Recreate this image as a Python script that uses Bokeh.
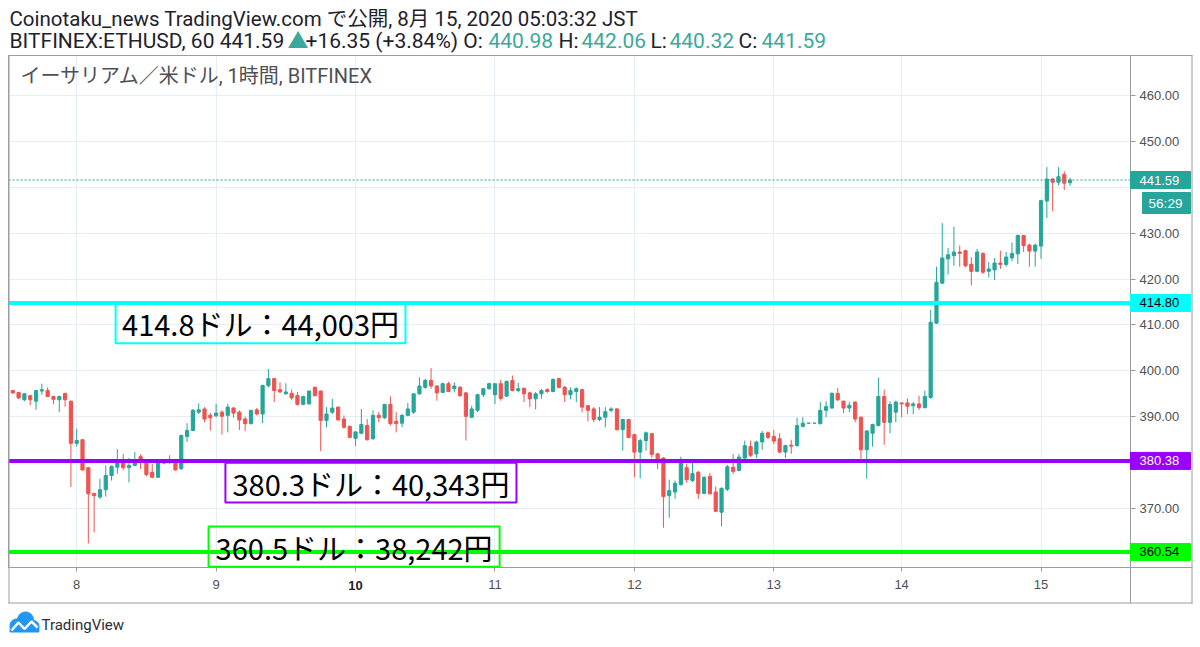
import numpy as np
from bokeh.plotting import figure
from bokeh.models import (Span, Label, BoxAnnotation, FixedTicker,
                          NumeralTickFormatter, Range1d, ColumnDataSource)
from bokeh.core.properties import value
from bokeh.embed import file_html
from bokeh.resources import INLINE

# ---------------- data (hourly candles, BITFINEX ETHUSD) ----------------
opens = [395.7, 395.3, 393.7, 394.6, 393.4, 395.6, 395.7, 394.4, 393.7, 395.1,
         393.4, 384.2, 385.0, 378.9, 373.3, 372.5, 374.1, 377.2, 379.0, 379.9,
         378.9, 379.4, 381.3, 380.5, 377.9, 376.8, 380.1, 380.5, 380.1, 378.7,
         385.7, 387.0, 391.0, 391.7, 390.3, 390.2, 391.0, 390.3, 391.9, 391.0,
         389.5, 388.5, 391.5, 390.6, 396.8, 398.3, 395.9, 395.0, 395.1, 394.6,
         392.7, 392.8, 396.4, 395.6, 389.2, 391.0, 392.1, 389.5, 387.9, 385.3,
         386.4, 388.1, 385.2, 390.3, 389.8, 392.7, 389.0, 388.6, 390.3, 391.0,
         395.0, 396.4, 397.9, 396.7, 395.3, 397.2, 396.1, 396.4, 395.2, 389.9,
         391.4, 394.8, 396.1, 394.8, 397.2, 394.5, 397.9, 395.7, 396.2, 395.2,
         393.9, 395.0, 395.9, 395.5, 398.3, 396.4, 394.8, 395.5, 395.9, 392.4,
         391.7, 389.4, 389.9, 391.4, 391.7, 387.2, 389.4, 386.1, 382.3, 384.8,
         386.3, 381.9, 381.0, 372.8, 373.6, 375.2, 378.9, 376.1, 377.9, 373.3,
         377.0, 373.6, 369.2, 374.2, 379.0, 378.3, 381.0, 383.5, 381.9, 384.5,
         386.5, 385.7, 385.2, 382.3, 383.8, 383.7, 387.9, 388.6, 388.6, 388.5,
         391.4, 391.9, 395.1, 393.4, 391.9, 393.2, 389.9, 382.8, 386.4, 388.1,
         394.4, 388.8, 391.0, 393.0, 393.0, 392.4, 392.8, 392.0, 394.2, 410.4,
         419.1, 424.4, 425.1, 425.9, 426.2, 423.2, 421.7, 425.6, 421.7, 422.0,
         423.5, 423.2, 424.6, 425.5, 429.5, 427.4, 426.1, 427.2, 437.0, 441.8,
         441.1, 442.8, 440.98]
highs = [395.9, 395.4, 395.1, 394.7, 395.9, 397.2, 396.4, 394.6, 394.6, 395.1,
         393.5, 387.4, 385.0, 379.0, 373.3, 376.5, 379.4, 379.4, 383.0, 381.9,
         381.0, 382.3, 381.8, 380.6, 379.7, 380.5, 380.8, 381.6, 380.5, 386.1,
         388.6, 391.7, 392.9, 392.1, 390.8, 392.8, 391.4, 392.8, 392.1, 391.4,
         390.0, 391.5, 391.9, 397.0, 400.4, 398.5, 397.5, 397.3, 395.9, 395.4,
         394.6, 395.7, 396.6, 395.7, 392.1, 393.9, 392.2, 390.3, 388.1, 386.8,
         391.7, 389.5, 391.4, 391.0, 392.8, 394.4, 391.0, 390.6, 393.0, 395.1,
         398.6, 398.3, 400.6, 396.8, 397.4, 397.6, 397.5, 396.7, 395.3, 392.4,
         395.0, 396.2, 397.4, 397.3, 398.1, 397.9, 399.0, 397.4, 396.4, 395.5,
         395.4, 396.1, 396.2, 398.4, 398.5, 396.7, 396.4, 396.4, 396.1, 392.6,
         392.1, 392.1, 392.1, 392.1, 391.9, 389.5, 389.5, 386.3, 385.2, 386.8,
         386.4, 382.1, 381.2, 376.3, 376.1, 381.3, 379.7, 380.1, 378.2, 377.0,
         377.7, 374.8, 374.6, 379.5, 381.9, 381.9, 384.8, 384.8, 384.8, 386.9,
         386.8, 387.1, 386.4, 383.9, 385.0, 389.8, 389.9, 388.6, 388.6, 393.2,
         393.4, 395.3, 396.3, 393.5, 393.2, 393.3, 390.0, 387.1, 388.5, 398.5,
         395.9, 393.4, 393.5, 393.2, 394.0, 393.2, 394.6, 395.7, 413.3, 422.7,
         432.2, 426.8, 431.4, 427.3, 426.4, 424.8, 426.6, 425.8, 423.7, 424.6,
         426.2, 425.9, 428.0, 429.7, 429.6, 427.7, 427.7, 437.3, 444.4, 442.0,
         444.4, 443.5, 442.06]
lows = [395.0, 393.9, 393.4, 392.5, 391.5, 394.8, 394.3, 392.7, 391.0, 392.2,
        374.7, 383.5, 378.3, 362.4, 364.8, 372.1, 372.6, 376.1, 377.6, 378.3,
        375.7, 379.2, 378.6, 377.0, 376.7, 376.7, 379.7, 379.7, 378.3, 378.4,
        384.5, 386.9, 390.6, 388.8, 387.0, 389.9, 386.1, 386.6, 389.8, 387.1,
        386.9, 388.3, 390.3, 388.6, 396.4, 393.2, 395.2, 394.8, 393.7, 392.4,
        392.5, 392.7, 394.4, 382.5, 387.7, 390.6, 389.2, 387.4, 385.4, 383.6,
        386.3, 384.8, 385.0, 388.8, 389.5, 388.1, 386.6, 387.7, 390.1, 390.6,
        394.8, 396.1, 396.1, 393.5, 395.2, 395.4, 395.3, 394.3, 384.8, 389.7,
        391.0, 394.3, 395.9, 392.8, 393.5, 394.3, 395.5, 395.4, 393.2, 392.1,
        391.6, 393.9, 395.2, 395.3, 396.2, 393.2, 393.8, 393.2, 391.0, 389.0,
        388.8, 389.0, 387.7, 391.0, 387.0, 382.6, 385.3, 376.8, 376.6, 382.6,
        381.0, 378.6, 365.8, 368.0, 372.1, 375.0, 375.6, 375.8, 372.1, 373.2,
        373.1, 369.2, 366.1, 373.8, 377.5, 378.1, 380.7, 381.2, 381.0, 382.8,
        385.2, 384.0, 382.1, 381.0, 381.9, 383.5, 387.7, 388.6, 388.6, 388.3,
        389.9, 391.7, 393.4, 390.8, 391.0, 388.8, 380.8, 376.5, 383.5, 387.9,
        383.9, 386.4, 388.8, 389.9, 390.6, 390.6, 391.5, 391.8, 393.9, 410.2,
        419.0, 421.0, 422.9, 422.7, 422.6, 418.6, 421.5, 421.1, 420.4, 419.8,
        422.2, 422.7, 423.9, 423.3, 425.9, 422.7, 422.7, 424.4, 433.3, 434.8,
        440.4, 439.4, 440.32]
closes = [395.2, 394.1, 395.0, 393.7, 395.7, 395.9, 394.4, 393.8, 394.4, 393.7,
          384.2, 384.8, 378.4, 373.2, 372.8, 374.1, 377.2, 379.2, 380.1, 378.9,
          379.4, 380.5, 380.5, 377.4, 376.8, 380.1, 379.9, 380.3, 378.4, 385.9,
          387.0, 391.4, 391.5, 389.5, 389.8, 390.8, 390.1, 392.1, 390.8, 389.3,
          388.5, 391.4, 390.6, 396.8, 398.3, 395.7, 395.4, 395.4, 394.1, 392.7,
          394.4, 395.6, 394.6, 389.2, 390.6, 391.9, 389.3, 387.7, 385.5, 386.7,
          388.3, 385.0, 390.3, 389.8, 392.7, 388.5, 388.5, 390.3, 391.7, 395.0,
          396.7, 397.9, 396.7, 395.2, 397.2, 395.5, 396.7, 394.6, 390.1, 391.7,
          394.8, 396.1, 397.2, 397.2, 394.0, 397.7, 395.7, 396.1, 395.0, 393.9,
          395.0, 395.7, 395.5, 398.1, 396.4, 394.8, 395.7, 396.1, 392.1, 391.4,
          389.4, 389.9, 391.1, 391.7, 387.2, 389.4, 385.5, 382.3, 384.8, 386.5,
          381.8, 380.8, 372.6, 373.9, 375.5, 380.1, 376.3, 377.6, 373.3, 376.8,
          373.2, 369.4, 374.4, 379.1, 378.1, 381.2, 383.7, 381.6, 384.5, 386.4,
          385.5, 384.7, 382.3, 383.7, 383.6, 388.1, 388.6, 388.6, 388.6, 391.4,
          392.2, 395.1, 393.7, 391.9, 392.5, 389.5, 382.8, 386.9, 388.3, 394.4,
          388.8, 392.7, 393.2, 392.8, 392.3, 392.8, 392.0, 394.4, 410.6, 419.3,
          424.6, 425.3, 425.9, 425.6, 422.9, 421.7, 425.9, 421.5, 422.2, 423.5,
          423.2, 424.8, 425.6, 429.5, 427.3, 426.1, 427.4, 437.1, 441.8, 441.1,
          442.3, 440.9, 441.59]

day_labels = ["8", "9", "10", "11", "12", "13", "14", "15"]
day_bar_index = [11, 35, 59, 83, 107, 131, 153, 177]
bold_day = "10"
price_ticks = [370, 380, 390, 400, 410, 420, 430, 440, 450, 460]
hidden_price_ticks = [380, 440]   # covered by price tags in the original

level_prices = [414.80, 380.38, 360.54]
level_colors = ["#00ffff", "#9900ff", "#00ff00"]
level_label_text_colors = ["#000000", "#ffffff", "#000000"]
note_texts = ["414.8ドル：44,003円", "380.3ドル：40,343円", "360.5ドル：38,242円"]

last_price = 441.59
change = 16.35
change_pct = 3.84
bar_open, bar_high, bar_low, bar_close = 440.98, 442.06, 440.32, 441.59
countdown = "56:29"
symbol = "BITFINEX:ETHUSD"
interval = "60"
publish_line = "Coinotaku_news TradingView.com で公開, 8月 15, 2020 05:03:32 JST"
chart_title = "イーサリアム／米ドル, 1時間, BITFINEX"

# ---------------- styles / layout ----------------
UP = "#26a69a"
DOWN = "#ef5350"
VAL = "#3aa99c"
DARK = "#1e222d"
GRAY_TXT = "#4e5056"
BORDER = "#9a9ca3"
GRID = "#e7edf4"
LATIN = "Roboto, 'Noto Sans CJK JP'"
AXISF = "'Liberation Sans'"
CJK = "'Noto Sans CJK JP'"

W, H = 1200, 647
FL, FR, FT, FB = 8, 1130, 55, 567          # frame edges on the page
Y0, Y1 = 357.15, 468.72
PX_PER_UNIT = (FB - FT) / (Y1 - Y0)

bar_index = list(range(len(opens)))
colors = [UP if c >= o else DOWN for o, c in zip(opens, closes)]
src = ColumnDataSource(dict(
    x=bar_index, o=opens, h=highs, l=lows, c=closes,
    top=[max(o, c) for o, c in zip(opens, closes)],
    bot=[min(o, c) for o, c in zip(opens, closes)],
    color=colors))

p = figure(width=W, height=H, x_range=Range1d(-0.74, 192.4),
           y_range=Range1d(Y0, Y1), y_axis_location="right",
           output_backend="svg", toolbar_location=None,
           min_border_left=FL, min_border_right=W - FR, min_border_top=FT,
           min_border_bottom=H - FB)
p.background_fill_color = "white"
p.border_fill_color = "white"
p.outline_line_color = BORDER
# page-pixel coordinate system for decorations around the chart
p.extra_x_ranges = {"px": Range1d(FL, FR)}
p.extra_y_ranges = {"py": Range1d(FB, FT)}
PXY = dict(x_range_name="px", y_range_name="py", level="overlay")

day_ticker = FixedTicker(ticks=day_bar_index)
price_ticker = FixedTicker(ticks=price_ticks)

ya = p.yaxis[0]
ya.ticker = price_ticker
ya.formatter = NumeralTickFormatter(format="0.00")
ya.major_label_overrides = {t: "" for t in hidden_price_ticks}
ya.major_label_text_font_size = "13px"
ya.major_label_text_color = GRAY_TXT
ya.major_label_text_font = AXISF
ya.axis_line_color = BORDER
ya.major_tick_line_color = BORDER
ya.major_tick_out = 5
ya.major_tick_in = 0
ya.minor_tick_line_color = None
ya.major_label_standoff = 4

xa = p.xaxis[0]
xa.ticker = day_ticker
xa.major_label_overrides = {i: ("" if l == bold_day else l) for i, l in zip(day_bar_index, day_labels)}
xa.major_label_text_font_size = "13px"
xa.major_label_text_color = GRAY_TXT
xa.major_label_text_font = AXISF
xa.axis_line_color = BORDER
xa.major_tick_line_color = BORDER
xa.major_tick_out = 4
xa.major_tick_in = 0
xa.minor_tick_line_color = None
xa.major_label_standoff = 8

p.xgrid.ticker = day_ticker
p.ygrid.ticker = price_ticker
p.xgrid.grid_line_color = GRID
p.ygrid.grid_line_color = GRID

# candles
p.segment(x0="x", y0="l", x1="x", y1="h", color="color", line_width=1, source=src)
p.vbar(x="x", width=0.55, top="top", bottom="bot", fill_color="color",
       line_color="color", line_width=1, source=src)

# current price dotted line
p.add_layout(Span(location=last_price, dimension="width", line_color=UP,
                  line_width=1, line_dash="2 2"))

# horizontal levels
for lp, lc in zip(level_prices, level_colors):
    p.add_layout(Span(location=lp, dimension="width", line_color=lc, line_width=4))

# note boxes (left, right, top, bottom) in chart coordinates
note_boxes = [(17.7, 67.6, 414.9, 406.0),
              (36.6, 86.7, 380.0, 371.3),
              (33.7, 83.8, 366.1, 357.3)]
for (l, r, t, b), txt, lc in zip(note_boxes, note_texts, level_colors):
    p.add_layout(BoxAnnotation(left=l, right=r, top=t, bottom=b, fill_alpha=0,
                               line_color=lc, line_width=2, line_alpha=1))
    p.add_layout(Label(x=(l + r) / 2, y=(t + b) / 2, text=txt, text_align="center",
                       text_baseline="middle", text_font=CJK,
                       text_font_size="29px", text_color="#000000"))

# chart title inside the pane
p.add_layout(Label(x=20 - FL, y=FB - 75, x_units="screen", y_units="screen",
                   text=chart_title, text_baseline="middle", text_font=LATIN,
                   text_font_size="20px", text_color=GRAY_TXT))

# ---- price-axis tags (price rows, page-pixel columns) ----
tag_prices = [last_price] + level_prices
tag_texts = [f"{v:.2f}" for v in tag_prices]
tag_bg = [UP] + level_colors
tag_fg = ["#ffffff"] + level_label_text_colors
p.rect(x=[1160] * len(tag_prices), y=tag_prices, width=60, height=17,
       height_units="screen", fill_color=tag_bg, line_color=tag_bg,
       x_range_name="px", level="overlay")
p.text(x=[1139] * len(tag_prices), y=tag_prices, text=tag_texts, text_color=tag_fg,
       text_font=value(AXISF), text_font_size="13px", text_baseline="middle",
       text_align="left", x_range_name="px", level="overlay")
cd_y = last_price - 23 / PX_PER_UNIT
p.rect(x=[1166], y=[cd_y], width=48, height=21, height_units="screen",
       fill_color=UP, line_color=UP, x_range_name="px", level="overlay")
p.text(x=[1165], y=[cd_y], text=[countdown], text_color="#ffffff",
       text_font=value(AXISF), text_font_size="13.5px", text_baseline="middle",
       text_align="center", x_range_name="px", level="overlay")

# bold day label on the time axis
p.text(x=[day_bar_index[day_labels.index(bold_day)]], y=[585], text=[bold_day],
       text_font=value(AXISF), text_font_size="13px", text_font_style="bold",
       text_color=DARK, text_align="center", text_baseline="middle",
       y_range_name="py", level="overlay")

# header lines
p.text(x=[9], y=[18], text=[publish_line], text_font=value(LATIN),
       text_font_size="20.5px", text_color=DARK, text_baseline="middle", **PXY)
header2 = [(f"{symbol}, {interval} {last_price:.2f}", DARK, 9),
           ("▲", VAL, 287),
           (f"+{change:.2f} (+{change_pct:.2f}%) O:", DARK, 305),
           (f"{bar_open:.2f}", VAL, 488),
           ("H:", DARK, 558),
           (f"{bar_high:.2f}", VAL, 581),
           ("L:", DARK, 650),
           (f"{bar_low:.2f}", VAL, 669),
           ("C:", DARK, 738),
           (f"{bar_close:.2f}", VAL, 761)]
p.text(x=[h[2] for h in header2], y=[40] * len(header2), text=[h[0] for h in header2],
       text_color=[h[1] for h in header2], text_font=value(LATIN),
       text_font_size="21px", text_baseline="middle", **PXY)

# outer chart box and axis separators
p.segment(x0=[8.5, 8, 1191.5, FR, FR, 8], y0=[FT, 602.5, FT, FB, FB, FT],
          x1=[8.5, 1192, 1191.5, FR, 1192, 1192], y1=[603, 602.5, 603, 603, FB, FT],
          line_color=BORDER, line_width=1, **PXY)

# TradingView logo (cloud + line + wordmark)
circles = [(16.0, 625.0, 6.5), (25.0, 619.5, 8.0), (33.0, 625.5, 5.5)]
bottom_Y = 631.5
xs_top = np.linspace(9.6, 38.4, 60)
ys_top = []
for X in xs_top:
    best = bottom_Y
    for cx, cy, r in circles:
        d = r * r - (X - cx) ** 2
        if d >= 0:
            best = min(best, cy - np.sqrt(d))
    ys_top.append(float(best))
cloud_x = [float(X) for X in xs_top] + [38.4, 9.6]
cloud_y = ys_top + [bottom_Y, bottom_Y]
p.patch(x=cloud_x, y=cloud_y, fill_color="#2196f3", line_color="#2196f3", **PXY)
p.line(x=[11, 18, 24, 31, 37], y=[630, 622, 628.5, 621, 627], line_color="white",
       line_width=2.5, **PXY)
p.text(x=[41], y=[624], text=["TradingView"], text_font=value(LATIN),
       text_font_size="15px", text_color="#2a2e39", text_baseline="middle", **PXY)

open("out.html", "w").write(file_html(p, INLINE))
